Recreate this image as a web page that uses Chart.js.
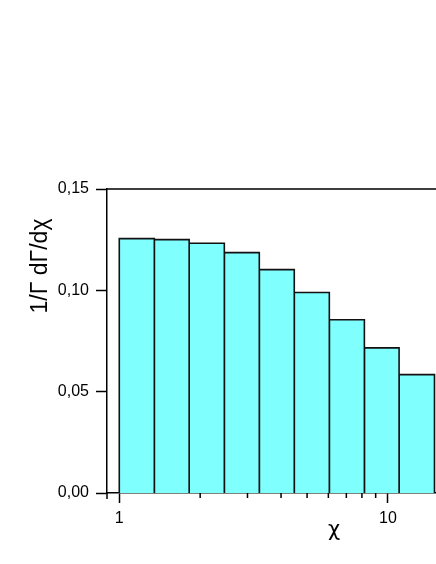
<!DOCTYPE html>
<html>
<head>
<meta charset="utf-8">
<script src="https://cdn.jsdelivr.net/npm/chart.js@4/dist/chart.umd.min.js"></script>
<style>
  html, body { margin: 0; padding: 0; background: #fff; overflow: hidden; width: 436px; height: 564px; }
  #chart { display: block; }
</style>
</head>
<body>
<canvas id="chart" width="480" height="564"></canvas>
<script>
// histogram bins on a log axis (edges) and heights
const binEdges = [1, 1.35, 1.82, 2.46, 3.32, 4.48, 6.05, 8.17, 11.0, 14.9];
const binValues = [0.1255, 0.125, 0.1232, 0.1186, 0.1102, 0.0989, 0.0855, 0.0716, 0.0584];
const yTicks = [0, 0.05, 0.10, 0.15];
const xMajorTicks = [1, 10];
const xMinorTicks = [2, 3, 4, 5, 6, 7, 8, 9, 20];

const yTitle = '1/\u0393 d\u0393/d\u03c7';
const xTitle = '\u03c7';

Chart.defaults.font.family = '"Liberation Sans", Arial, sans-serif';
Chart.defaults.font.size = 16;
Chart.defaults.color = '#000';

// one closed box per bin
const datasets = binValues.map((v, i) => ({
    data: [
        { x: binEdges[i], y: 0 },
        { x: binEdges[i], y: v },
        { x: binEdges[i + 1], y: v },
        { x: binEdges[i + 1], y: 0 }
    ],
    showLine: true,
    fill: 'origin',
    backgroundColor: '#80ffff',
    borderColor: '#111',
    borderWidth: 1.6,
    pointRadius: 0,
    tension: 0
}));

// frame, minor ticks and axis titles
const extras = {
    id: 'extras',
    afterDraw(chart) {
        const ctx = chart.ctx;
        const area = chart.chartArea;
        const xs = chart.scales.x;
        ctx.save();
        ctx.strokeStyle = '#000';
        ctx.lineWidth = 1.5;
        ctx.beginPath();
        ctx.moveTo(area.left, area.top);
        ctx.lineTo(area.right, area.top);
        // left axis runs a bit below zero
        ctx.moveTo(area.left, area.bottom);
        ctx.lineTo(area.left, area.bottom + 6);
        xMinorTicks.forEach(t => {
            const px = xs.getPixelForValue(t);
            ctx.moveTo(px, area.bottom);
            ctx.lineTo(px, area.bottom + 5);
        });
        ctx.stroke();

        ctx.fillStyle = '#000';
        ctx.textAlign = 'center';
        ctx.textBaseline = 'middle';
        ctx.font = '21px "DejaVu Sans", sans-serif';
        ctx.fillText(xTitle, 334, 531);
        ctx.translate(41, 266);
        ctx.rotate(-Math.PI / 2);
        ctx.font = '23px "Liberation Sans", Arial, sans-serif';
        ctx.fillText(yTitle, 0, 0);
        ctx.restore();
    }
};

new Chart(document.getElementById('chart'), {
    type: 'scatter',
    data: { datasets: datasets },
    plugins: [extras],
    options: {
        responsive: false,
        animation: false,
        devicePixelRatio: 1,
        layout: { padding: { top: 189, right: 10, left: 0, bottom: 0 } },
        plugins: { legend: { display: false }, tooltip: { enabled: false } },
        scales: {
            x: {
                type: 'logarithmic',
                min: 0.9,
                max: 20.2,
                afterBuildTicks: (scale) => { scale.ticks = xMajorTicks.map(v => ({ value: v })); },
                afterFit: (scale) => { scale.height = 71; },
                ticks: {
                    autoSkip: false,
                    maxRotation: 0,
                    padding: 6,
                    callback: (v) => String(v)
                },
                grid: {
                    drawOnChartArea: false,
                    drawTicks: true,
                    tickLength: 10,
                    tickColor: '#000',
                    tickWidth: 1.5
                },
                border: { display: true, color: '#000', width: 1.5 }
            },
            y: {
                min: 0,
                max: 0.15,
                afterBuildTicks: (scale) => { scale.ticks = yTicks.map(v => ({ value: v })); },
                afterFit: (scale) => { scale.width = 107; },
                ticks: {
                    padding: 7,
                    callback: (v) => v.toFixed(2).replace('.', ',')
                },
                grid: {
                    drawOnChartArea: false,
                    drawTicks: true,
                    tickLength: 11,
                    tickColor: '#000',
                    tickWidth: 1.5
                },
                border: { display: true, color: '#000', width: 1.5 }
            }
        }
    }
});
</script>
</body>
</html>
